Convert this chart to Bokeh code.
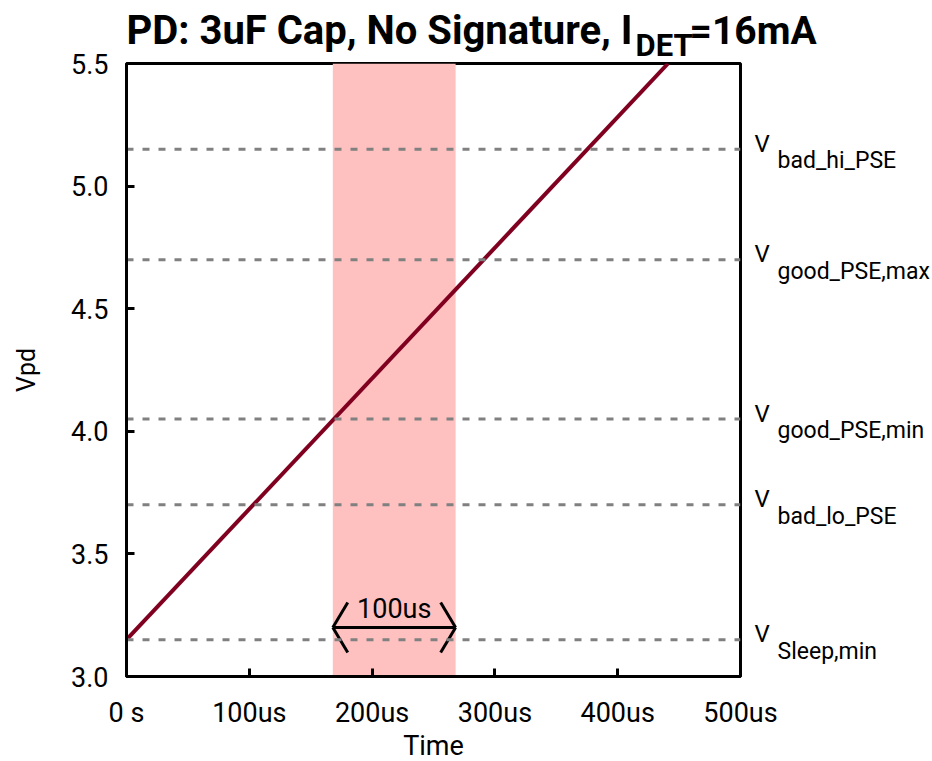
from bokeh.plotting import figure
from bokeh.models import Range1d, FixedTicker, BoxAnnotation, Span, LinearAxis
from bokeh.core.properties import value
from bokeh.embed import file_html
from bokeh.resources import INLINE

# ---- data ----
time_us = [0, 441]            # ramp endpoints (us)
vpd = [3.15, 5.50]            # Vpd at those times (V)
window_start_us = 168
window_end_us = 268
window_label = "100us"
arrow_level = 3.20
thresholds = [5.15, 4.70, 4.05, 3.70, 3.15]
threshold_main = ["V", "V", "V", "V", "V"]
threshold_subs = ["bad_hi_PSE", "good_PSE,max", "good_PSE,min", "bad_lo_PSE", "Sleep,min"]
x_ticks = [0, 100, 200, 300, 400, 500]
x_tick_labels = ["0 s", "100us", "200us", "300us", "400us", "500us"]
y_ticks = [3.0, 3.5, 4.0, 4.5, 5.0, 5.5]
y_tick_labels = ["3.0", "3.5", "4.0", "4.5", "5.0", "5.5"]
x_title = "Time"
y_title = "Vpd"
title_main = "PD: 3uF Cap, No Signature, I"
title_sub = "DET"
title_end = "=16mA"

FONT = "Roboto"
W, H = 932, 761
X0, X1 = 0, 500
Y0, Y1 = 3.0, 5.5
FL, FR, FT, FB = 126, 742, 63, 676
px_per_us = (FR - FL) / (X1 - X0)
px_per_v = (FB - FT) / (Y1 - Y0)
BASE_K = 0.32                 # alphabetic-baseline correction (fraction of font size)

p = figure(width=W, height=H, output_backend="svg", toolbar_location=None,
           x_range=Range1d(X0, X1), y_range=Range1d(Y0, Y1),
           min_border_left=FL, min_border_right=W - FR,
           min_border_top=FT, min_border_bottom=H - FB)
p.background_fill_color = "white"
p.border_fill_color = "white"
p.outline_line_color = "black"
p.outline_line_width = 3
p.xgrid.visible = False
p.ygrid.visible = False


def free_text(x, y, txt, dx, dy, size, align="left", bold=False):
    """Text glyph drawn on the overlay level (not clipped to the frame).
    dx, dy: screen-pixel offsets (dy positive = downward) of the baseline."""
    r = p.text(x=[x], y=[y], text=[txt], x_offset=dx, y_offset=dy - BASE_K * size,
               text_font=value(FONT), text_font_style="bold" if bold else "normal",
               text_font_size=f"{size}px", text_align=align,
               text_baseline="alphabetic", text_color="black")
    r.level = "overlay"
    return r


# shaded 100us window
p.add_layout(BoxAnnotation(left=window_start_us, right=window_end_us,
                           fill_color="#ffc0c0", fill_alpha=1.0, line_alpha=0,
                           level="underlay"))

# threshold dashed lines
for t in thresholds:
    p.add_layout(Span(location=t, dimension="width", line_color="#808080",
                      line_width=3, line_dash="7 9", level="glyph"))

# ramp
p.line(time_us, vpd, line_color="#800020", line_width=4)

# double arrow marking the 100us window
hx = 15 / px_per_us
hy = 25 / px_per_v
p.segment(x0=[window_start_us], y0=[arrow_level], x1=[window_end_us], y1=[arrow_level],
          line_color="black", line_width=3)
p.segment(x0=[window_start_us, window_start_us, window_end_us, window_end_us],
          y0=[arrow_level] * 4,
          x1=[window_start_us + hx, window_start_us + hx, window_end_us - hx, window_end_us - hx],
          y1=[arrow_level + hy, arrow_level - hy, arrow_level + hy, arrow_level - hy],
          line_color="black", line_width=3)
free_text((window_start_us + window_end_us) / 2, arrow_level, window_label, 0, -10, 27, "center")

# title, anchored to the top-left corner of the frame
free_text(X0, Y1, title_main, 506, -20, 40, "right", bold=True)
free_text(X0, Y1, title_sub, 509, -8, 31, "left", bold=True)
free_text(X0, Y1, title_end, 563, -20, 39, "left", bold=True)

# x-axis title below the tick labels
free_text((X0 + X1) / 2, Y0, x_title, 0, 78, 27, "center")

# axes styling
for ax in (p.xaxis[0], p.yaxis[0]):
    ax.axis_line_width = 3
    ax.major_tick_line_width = 3
    ax.major_tick_in = 8
    ax.major_tick_out = 0
    ax.minor_tick_line_color = None
    ax.major_label_text_font = FONT
    ax.major_label_text_font_size = "27px"
    ax.major_label_text_color = "black"
    ax.axis_label_text_font = FONT
    ax.axis_label_text_font_size = "25px"
    ax.axis_label_text_font_style = "normal"
    ax.axis_label_text_color = "black"

p.xaxis.ticker = FixedTicker(ticks=x_ticks)
p.xaxis.major_label_overrides = dict(zip(x_ticks, x_tick_labels))
p.yaxis.ticker = FixedTicker(ticks=y_ticks)
p.yaxis.major_label_overrides = dict(zip(y_ticks, y_tick_labels))
p.xaxis.major_label_standoff = 20
p.yaxis.major_label_standoff = 18
p.yaxis.axis_label = y_title
p.yaxis.axis_label_standoff = 27

# right-side threshold names: "V" + subscript, as two right axes
v_shift = 5.5 / px_per_v      # "V" sits a little above its line
s_shift = 11.5 / px_per_v     # subscript sits below its line
p.extra_y_ranges = {
    "v": Range1d(Y0 - v_shift, Y1 - v_shift),
    "sub": Range1d(Y0 + s_shift, Y1 + s_shift),
}
ax_v = LinearAxis(y_range_name="v", ticker=FixedTicker(ticks=thresholds),
                  major_label_overrides=dict(zip(thresholds, threshold_main)))
ax_s = LinearAxis(y_range_name="sub", ticker=FixedTicker(ticks=thresholds),
                  major_label_overrides=dict(zip(thresholds, threshold_subs)))
for ax, size, standoff in ((ax_v, "24px", 14), (ax_s, "23px", 5)):
    ax.axis_line_color = None
    ax.major_tick_line_color = None
    ax.minor_tick_line_color = None
    ax.major_tick_in = 0
    ax.major_tick_out = 0
    ax.major_label_standoff = standoff
    ax.major_label_text_font = FONT
    ax.major_label_text_font_size = size
    ax.major_label_text_color = "black"
p.add_layout(ax_v, "right")
p.add_layout(ax_s, "right")

open("out.html", "w").write(file_html(p, INLINE))
